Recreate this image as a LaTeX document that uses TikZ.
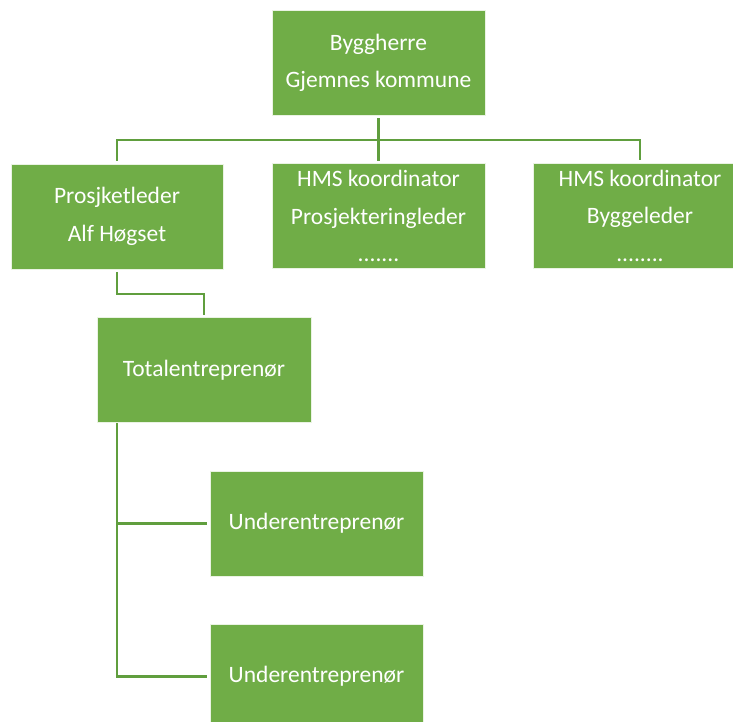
\documentclass[tikz,border=0pt]{standalone}
\usepackage{fontspec}
\setmainfont{Carlito}
\usepackage{xcolor}
\usetikzlibrary{positioning,calc}

\definecolor{boxgreen}{HTML}{70AD47}
\definecolor{linegreen}{HTML}{609E3E}

\begin{document}
\begin{tikzpicture}[x=1pt, y=-1pt,
  orgbox/.style={rectangle, fill=boxgreen, draw=white!85!boxgreen, line width=0.8pt,
    text=white, align=center, minimum width=213pt, minimum height=105pt,
    inner sep=0pt, font=\fontsize{23.5}{37.5}\selectfont},
  link/.style={draw=linegreen, line width=2.6pt, shorten >=2.5pt, shorten <=2.5pt}]
  \useasboundingbox (0,0) rectangle (733,722);

  % Top level
  \node[orgbox] (owner) at (378.5,63) {Byggherre\\Gjemnes kommune};

  % Second level
  \node[orgbox, minimum width=212pt] (leader) at (117,216.5) {Prosjketleder\\Alf Høgset};
  \node[orgbox] (hmsdesign) at (378.5,216) {HMS koordinator\\Prosjekteringleder\\.......};
  \node[orgbox] (hmsbuild) at (640,215.5) {HMS koordinator\\Byggeleder\\........};

  % Contractors
  \node[orgbox, minimum width=214pt] (main) at (204,370) {Totalentreprenør};
  \node[orgbox] (sub1) at (316.5,523.5) {Underentreprenør};
  \node[orgbox] (sub2) at (316.5,676.5) {Underentreprenør};

  % Connectors
  \coordinate (bus) at (378.5,140);
  \coordinate (elbow) at (117,294);
  \coordinate (trunk) at (117,423);
  \draw[link, shorten >=0pt] (owner.south) -- (bus);
  \draw[link, shorten <=0pt] (bus) -- (hmsdesign.north);
  \draw[link, shorten <=0pt] (bus) -| (leader.north);
  \draw[link, shorten <=0pt] (bus) -| (hmsbuild.north);
  \draw[link] (leader.south) |- (elbow) -| (main.north);
  \draw[link, shorten <=0pt] (trunk) |- (sub1.west);
  \draw[link, shorten <=0pt] (trunk) |- (sub2.west);
\end{tikzpicture}
\end{document}
